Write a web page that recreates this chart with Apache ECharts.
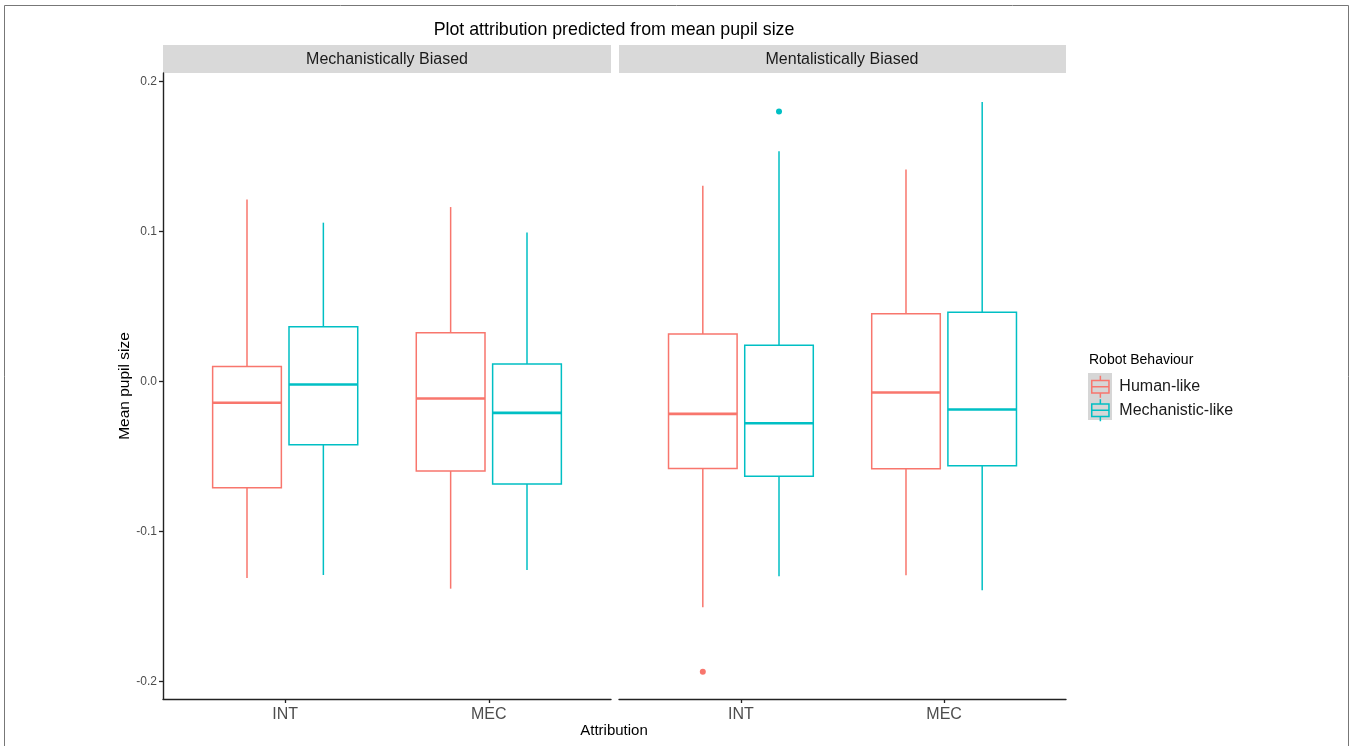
<!DOCTYPE html>
<html>
<head>
<meta charset="utf-8">
<title>Plot attribution predicted from mean pupil size</title>
<script src="https://cdn.jsdelivr.net/npm/echarts@6.0.0/dist/echarts.min.js"></script>
<style>
  html, body { margin: 0; padding: 0; background: #fff; }
  #chart { width: 1353px; height: 746px; }
</style>
</head>
<body>
<div id="chart"></div>
<script>
  // x categories of each panel, facets and fill groups
  const categories = ['INT', 'MEC'];
  const facets = ['Mechanistically Biased', 'Mentalistically Biased'];
  const groups = ['Human-like', 'Mechanistic-like'];
  const yTicks = [-0.2, -0.1, 0.0, 0.1, 0.2];

  // box stats per category: [lower whisker, Q1, median, Q3, upper whisker]
  const mechBiasedHuman = [
    [-0.1309, -0.0707, -0.0142, 0.0100, 0.1213],
    [-0.1380, -0.0596, -0.0113, 0.0324, 0.1162]
  ];
  const mechBiasedMech = [
    [-0.1289, -0.0422, -0.0020, 0.0364, 0.1058],
    [-0.1256, -0.0682, -0.0209, 0.0116, 0.0993]
  ];
  const mentBiasedHuman = [
    [-0.1504, -0.0580, -0.0216, 0.0316, 0.1304],
    [-0.1291, -0.0582, -0.0073, 0.0451, 0.1413]
  ];
  const mentBiasedMech = [
    [-0.1298, -0.0631, -0.0278, 0.0242, 0.1533],
    [-0.1391, -0.0562, -0.0187, 0.0462, 0.1862]
  ];
  // outliers: [category index, value]
  const mentBiasedHumanOut = [[0, -0.1933]];
  const mentBiasedMechOut = [[0, 0.1798]];

  const colors = ['#F8766D', '#00BFC4'];
  const FONT = '"Liberation Sans", Arial, sans-serif';
  const DODGE = 0.1875;   // half of dodge width 0.75
  const BOX_W = 0.3375;   // box width with padding
  const Y_MIN = -0.2115, Y_MAX = 0.2055;

  // ggplot-like legend key: box with median and whiskers
  const BOX_ICON = 'path://M9,0 L9,5 M0,5 L18,5 L18,18 L0,18 Z M0,11.5 L18,11.5 M9,18 L9,23';

  function boxData(stats, offset) {
    return stats.map((s, i) => [i + 1 + offset].concat(s));
  }
  function outData(list, offset) {
    return list.map(o => [o[0] + 1 + offset, o[1]]);
  }

  function renderBox(params, api) {
    const x = api.value(0);
    const lo = api.coord([x, api.value(1)]);
    const q1 = api.coord([x, api.value(2)]);
    const med = api.coord([x, api.value(3)]);
    const q3 = api.coord([x, api.value(4)]);
    const hi = api.coord([x, api.value(5)]);
    const half = api.size([BOX_W, 0])[0] / 2;
    const color = api.visual('color');
    const cx = lo[0];
    return {
      type: 'group',
      children: [
        { type: 'line', shape: { x1: cx, y1: hi[1], x2: cx, y2: q3[1] }, style: { stroke: color, lineWidth: 1.5 } },
        { type: 'line', shape: { x1: cx, y1: q1[1], x2: cx, y2: lo[1] }, style: { stroke: color, lineWidth: 1.5 } },
        { type: 'rect', shape: { x: cx - half, y: q3[1], width: half * 2, height: q1[1] - q3[1] },
          style: { fill: '#fff', stroke: color, lineWidth: 1.5 } },
        { type: 'line', shape: { x1: cx - half, y1: med[1], x2: cx + half, y2: med[1] }, style: { stroke: color, lineWidth: 2.6 } }
      ]
    };
  }

  function xAxisFor(idx) {
    return {
      type: 'value', gridIndex: idx, min: 0.4, max: 2.6,
      axisLine: { onZero: false, lineStyle: { color: '#222', width: 1.4 } },
      axisTick: { customValues: [1, 2], length: 4, lineStyle: { color: '#222', width: 1.3 } },
      axisLabel: {
        customValues: [1, 2], margin: 8, fontSize: 16, color: '#4d4d4d', fontFamily: FONT,
        formatter: v => categories[Math.round(v) - 1]
      },
      splitLine: { show: false }
    };
  }

  function boxSeries(name, stats, offset, gi, color) {
    return {
      name: name, type: 'custom', xAxisIndex: gi, yAxisIndex: gi,
      itemStyle: { color: color },
      encode: { x: 0, y: [1, 2, 3, 4, 5] },
      renderItem: renderBox,
      data: boxData(stats, offset)
    };
  }

  function outSeries(name, list, offset, gi, color) {
    return {
      name: name, type: 'scatter', xAxisIndex: gi, yAxisIndex: gi,
      symbolSize: 6, itemStyle: { color: color, opacity: 1 },
      data: outData(list, offset)
    };
  }

  const chart = echarts.init(document.getElementById('chart'));
  chart.setOption({
    animation: false,
    backgroundColor: '#fff',
    textStyle: { fontFamily: FONT },
    grid: [
      { left: 163, top: 73, width: 448, height: 626 },
      { left: 619, top: 73, width: 447, height: 626 }
    ],
    xAxis: [xAxisFor(0), xAxisFor(1)],
    yAxis: [
      {
        type: 'value', gridIndex: 0, min: Y_MIN, max: Y_MAX,
        name: 'Mean pupil size', nameLocation: 'middle', nameGap: 28, nameRotate: 90,
        nameTextStyle: { fontSize: 15.5, color: '#000', fontFamily: FONT },
        axisLine: { show: true, onZero: false, lineStyle: { color: '#222', width: 1.4 } },
        axisTick: { show: true, customValues: yTicks, length: 4, lineStyle: { color: '#222', width: 1.3 } },
        axisLabel: { customValues: yTicks, margin: 6, fontSize: 12, color: '#4d4d4d', fontFamily: FONT,
          formatter: v => v.toFixed(1) },
        splitLine: { show: false }
      },
      { type: 'value', gridIndex: 1, min: Y_MIN, max: Y_MAX, show: false, splitLine: { show: false } }
    ],
    legend: {
      orient: 'vertical', left: 1091, top: 375, padding: 0,
      itemWidth: 28, itemHeight: 22, itemGap: 0,
      textStyle: { fontSize: 16, color: '#1a1a1a', fontFamily: FONT },
      data: groups.map((g, i) => ({
        name: g, icon: BOX_ICON,
        itemStyle: { color: 'rgba(0,0,0,0)', borderColor: colors[i], borderWidth: 1.5 }
      }))
    },
    graphic: [
      { type: 'rect', shape: { x: 4.5, y: 5.5, width: 1344, height: 760 }, style: { fill: 'none', stroke: '#777', lineWidth: 1 }, silent: true },
      { type: 'text', x: 614, y: 30, style: { text: 'Plot attribution predicted from mean pupil size', fontSize: 17.8,
          fontFamily: FONT, fill: '#000', textAlign: 'center', textVerticalAlign: 'middle' } },
      { type: 'rect', shape: { x: 163, y: 45, width: 448, height: 28 }, style: { fill: '#d9d9d9' } },
      { type: 'rect', shape: { x: 619, y: 45, width: 447, height: 28 }, style: { fill: '#d9d9d9' } },
      { type: 'text', x: 387, y: 60, style: { text: facets[0], fontSize: 16, fontFamily: FONT, fill: '#1a1a1a',
          textAlign: 'center', textVerticalAlign: 'middle' } },
      { type: 'text', x: 842, y: 60, style: { text: facets[1], fontSize: 16, fontFamily: FONT, fill: '#1a1a1a',
          textAlign: 'center', textVerticalAlign: 'middle' } },
      { type: 'text', x: 614, y: 731, style: { text: 'Attribution', fontSize: 15, fontFamily: FONT, fill: '#000',
          textAlign: 'center', textVerticalAlign: 'middle' } },
      { type: 'text', x: 1089, y: 360, style: { text: 'Robot Behaviour', fontSize: 14, fontFamily: FONT, fill: '#000',
          textAlign: 'left', textVerticalAlign: 'middle' } },
      { type: 'rect', shape: { x: 1088, y: 373, width: 24, height: 47 }, style: { fill: '#d6d6d6' } }
    ],
    series: [
      boxSeries(groups[0], mechBiasedHuman, -DODGE, 0, colors[0]),
      boxSeries(groups[1], mechBiasedMech, DODGE, 0, colors[1]),
      boxSeries(groups[0], mentBiasedHuman, -DODGE, 1, colors[0]),
      boxSeries(groups[1], mentBiasedMech, DODGE, 1, colors[1]),
      outSeries(groups[0], mentBiasedHumanOut, -DODGE, 1, colors[0]),
      outSeries(groups[1], mentBiasedMechOut, DODGE, 1, colors[1])
    ]
  });
</script>
</body>
</html>
